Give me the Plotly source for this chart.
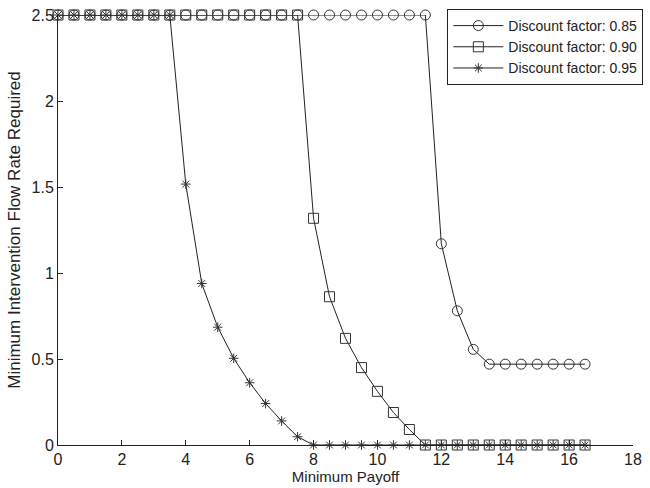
import plotly.graph_objects as go

x_vals = [i * 0.5 for i in range(34)]  # 0 .. 16.5

y_085 = [2.5] * 24 + [1.17, 0.78, 0.556, 0.47, 0.47, 0.47, 0.47, 0.47, 0.47, 0.47]
y_090 = [2.5] * 16 + [1.318, 0.862, 0.62, 0.45, 0.312, 0.189, 0.09, 0.0] + [0.0] * 10
y_095 = [2.5] * 8 + [1.517, 0.939, 0.685, 0.504, 0.362, 0.241, 0.14, 0.048, 0.0] + [0.0] * 17

names = ["Discount factor: 0.85", "Discount factor: 0.90", "Discount factor: 0.95"]
symbols = ["circle-open", "square-open", "asterisk-open"]
sizes = [10, 10, 8]
series = [y_085, y_090, y_095]

x_ticks = list(range(0, 19, 2))
y_ticks = [0, 0.5, 1, 1.5, 2, 2.5]
y_tick_text = ["0", "0.5", "1", "1.5", "2", "2.5"]

fig = go.Figure()
for name, sym, sz, ys in zip(names, symbols, sizes, series):
    fig.add_trace(go.Scatter(
        x=x_vals, y=ys, name=name, mode="lines+markers",
        line=dict(color="#222222", width=1),
        marker=dict(symbol=sym, size=sz, color="#333333", line=dict(width=1, color="#333333")),
        cliponaxis=False,
    ))

font = "Liberation Sans, Arial, sans-serif"
fig.update_layout(
    width=650, height=488,
    margin=dict(l=58, r=7, t=12, b=43),
    paper_bgcolor="white", plot_bgcolor="white",
    font=dict(family=font, size=15, color="#222222"),
    showlegend=True,
    legend=dict(
        x=1.018, y=1.014, xanchor="right", yanchor="top",
        bordercolor="#222222", borderwidth=1, bgcolor="white",
        font=dict(size=14, family=font), itemwidth=50,
        tracegroupgap=0,
    ),
    xaxis=dict(
        range=[0, 18], tickvals=x_ticks, ticks="inside", ticklen=5,
        showline=True, linecolor="#222222", linewidth=1, tickcolor="#222222",
        showgrid=False, zeroline=False, mirror=False,
        tickfont=dict(size=16),
        title=dict(text="Minimum Payoff", standoff=0, font=dict(size=15)),
    ),
    yaxis=dict(
        range=[0, 2.5], tickvals=y_ticks, ticktext=y_tick_text, ticks="inside", ticklen=5,
        showline=True, linecolor="#222222", linewidth=1, tickcolor="#222222",
        showgrid=False, zeroline=False, mirror=False,
        tickfont=dict(size=16),
        title=dict(text="Minimum Intervention Flow Rate Required", standoff=6, font=dict(size=17)),
    ),
)

fig.write_html("out.html")
